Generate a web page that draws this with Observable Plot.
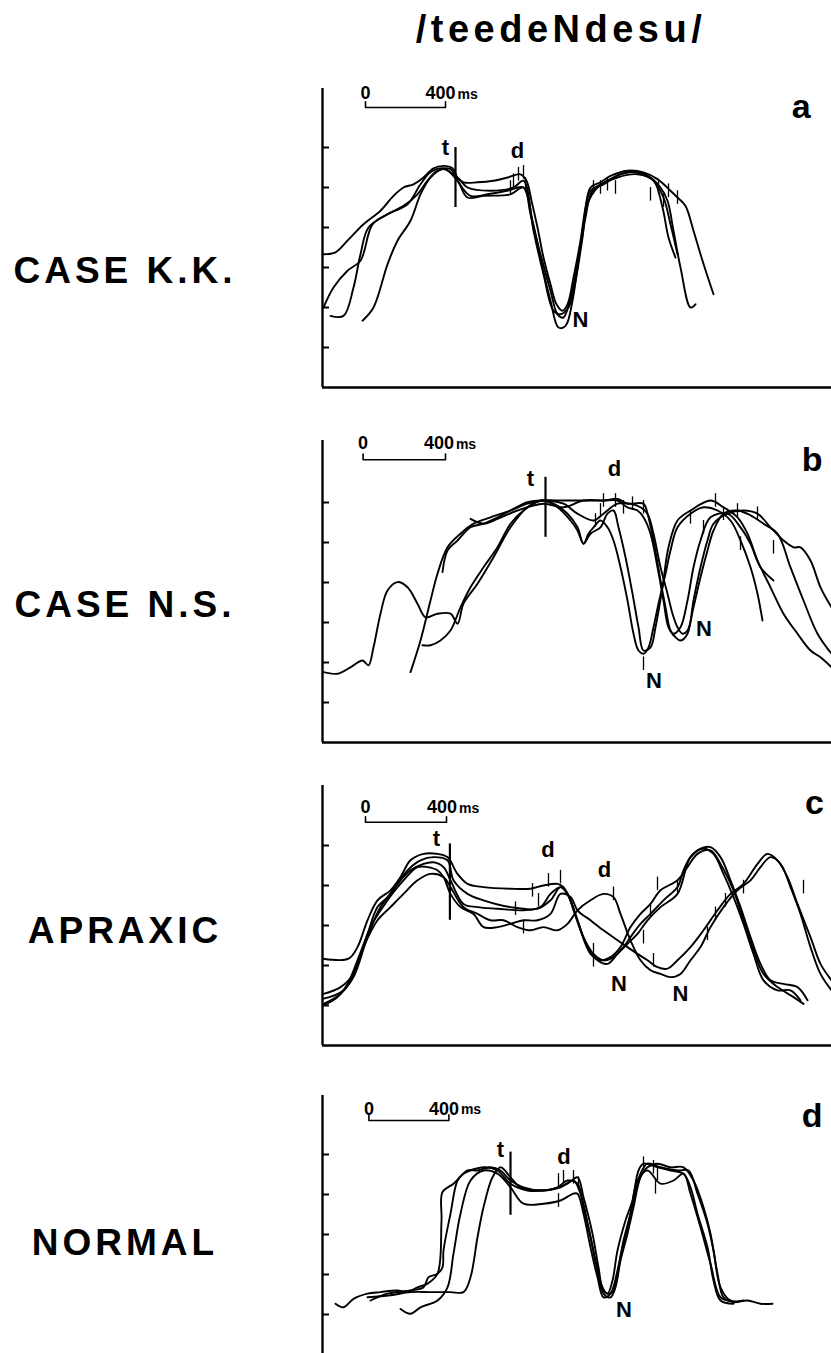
<!DOCTYPE html>
<html><head><meta charset="utf-8">
<script src="https://cdn.jsdelivr.net/npm/d3@7"></script>
<script src="https://cdn.jsdelivr.net/npm/@observablehq/plot@0.6"></script>
<style>
html,body{margin:0;padding:0;background:#fff;width:831px;height:1353px;overflow:hidden;position:relative;font-family:"Liberation Sans",Arial,sans-serif;color:#000}
.lbl{position:absolute;left:0;width:250px;text-align:center;font-weight:bold;font-size:37px;letter-spacing:4px;line-height:37px;white-space:nowrap}
#title{position:absolute;left:361px;width:400px;top:10px;text-align:center;font-weight:bold;font-size:38px;letter-spacing:4.5px;line-height:38px;white-space:nowrap}
.panel{position:absolute;left:0}
</style></head><body>
<div id="title">/teedeNdesu/</div>
<div class="lbl" style="top:252px">CASE K.K.</div>
<div class="lbl" style="top:586px">CASE N.S.</div>
<div class="lbl" style="top:912px">APRAXIC</div>
<div class="lbl" style="top:1224px">NORMAL</div>
<div id="pa" class="panel"></div>
<div id="pb" class="panel"></div>
<div id="pc" class="panel"></div>
<div id="pd" class="panel"></div>
<script>
// time in ms (0 = vertical axis), amplitude in tick units
// ---------- a: CASE K.K. ----------
const kk1 = [[5,3.33],[65,3.38],[125,3.67],[205,4.08],[290,4.42],[355,4.79],[405,5.0],[455,5.08],[505,5.25],[555,5.48],[605,5.54],[650,5.48],[675,5.25],[705,5.13],[775,5.13],[855,5.17],[925,5.25],[990,5.33],[1020,5.17],[1045,4.67],[1075,4.0],[1105,3.25],[1140,2.58],[1170,2.08],[1200,1.92],[1225,2.08],[1255,2.75],[1290,3.67],[1315,4.5],[1340,5.0],[1390,5.13],[1440,5.29],[1525,5.42],[1605,5.38],[1675,5.21],[1740,4.92],[1775,4.75],[1815,4.54],[1855,3.92],[1900,3.17],[1955,2.33]];
const kk2 = [[5,2.0],[55,2.5],[125,2.92],[190,3.17],[250,4.08],[325,4.33],[405,4.54],[475,4.83],[525,5.17],[575,5.42],[640,5.46],[675,5.17],[740,4.79],[825,4.83],[925,4.92],[1005,5.0],[1040,4.33],[1090,3.33],[1140,2.42],[1175,1.83],[1205,1.75],[1240,2.25],[1275,3.08],[1305,4.08],[1340,4.92],[1405,5.08],[1490,5.33],[1590,5.38],[1655,5.17],[1705,4.75],[1740,4.08],[1775,3.33]];
const kk3 = [[40,1.79],[105,1.79],[155,2.5],[190,3.33],[230,4.0],[325,4.33],[425,4.58],[490,5.08],[540,5.38],[605,5.48],[675,5.17],[725,4.75],[805,4.79],[940,4.83],[1005,5.0],[1050,4.17],[1100,3.0],[1140,2.17],[1180,1.5],[1215,1.54],[1250,2.17],[1280,3.17],[1315,4.25],[1350,4.92],[1425,5.17],[1525,5.38],[1625,5.29],[1690,5.0],[1725,4.67],[1755,3.92],[1790,3.0],[1840,2.0],[1865,2.08]];
const kk4 = [[200,1.67],[255,2.0],[325,3.08],[375,3.67],[440,4.17],[490,4.83],[540,5.25],[605,5.46],[675,5.25],[725,5.0],[840,4.92],[955,5.0],[1005,5.17],[1055,3.92],[1105,2.83],[1155,1.92],[1190,1.83],[1230,2.0],[1265,2.67],[1300,3.75],[1325,4.58],[1375,5.0],[1475,5.25],[1575,5.33],[1655,5.17],[1700,4.5],[1730,3.75],[1765,3.25]];
const kkMarks = [[940,5.0],[955,5.17],[980,5.33],[1005,5.38],[1015,5.08],[1355,5.0],[1390,5.0],[1425,5.08],[1465,5.0],[1640,4.83],[1680,5.0],[1705,4.67],[1730,4.92],[1775,4.75]];
const kkLabels = [{x:615,y:6.0,text:"t"},{x:975,y:5.92,text:"d"},{x:1290,y:1.68,text:"N"}];
const kkT = {x:665,y1:4.5,y2:6.0};
const kkBar = {x0:215,x1:615,y:7.0,zeroY:7.36,msX:515,unitX:675};
const kkLetter = {x:2393,y:7.0,text:"a"};

// ---------- b: CASE N.S. ----------
const ns1 = [[5,1.76],[75,1.72],[140,1.88],[200,2.05],[230,1.93],[255,2.38],[290,3.22],[325,3.8],[375,4.01],[425,3.88],[475,3.47],[515,3.13],[575,3.22],[640,3.22],[675,2.97],[705,3.47],[775,3.97],[855,4.63],[940,5.38],[1025,5.88],[1105,6.05],[1175,5.88],[1240,5.55],[1275,5.3],[1305,4.97],[1330,5.22],[1355,5.38],[1390,5.55],[1425,5.38],[1455,5.05],[1490,4.38],[1525,3.55],[1555,2.72],[1580,2.3],[1605,2.22],[1630,2.38],[1655,2.88],[1680,3.47],[1715,4.22],[1740,4.8],[1775,5.38],[1840,5.72],[1905,5.88],[1975,5.8],[2040,5.55],[2090,5.05],[2140,4.38],[2175,3.72],[2200,3.05]];
const ns2 = [[440,1.76],[490,2.55],[540,3.55],[575,4.22],[625,4.88],[690,5.22],[755,5.47],[840,5.63],[940,5.8],[1025,5.97],[1105,6.05],[1205,6.05],[1305,6.05],[1405,6.05],[1475,6.09],[1525,5.97],[1605,5.97],[1625,5.72],[1655,5.05],[1690,4.05],[1715,3.38],[1740,2.8],[1765,2.63],[1790,2.55],[1825,2.72],[1855,3.55],[1890,4.38],[1925,5.05],[1955,5.47],[2025,5.72],[2105,5.8],[2175,5.72],[2240,5.38],[2305,5.05],[2355,4.88],[2390,4.88],[2440,4.55],[2490,3.88],[2545,3.38]];
const ns3 = [[500,2.43],[540,2.43],[590,2.55],[640,2.8],[690,3.38],[740,3.88],[805,4.38],[875,4.88],[940,5.47],[1005,5.8],[1090,6.05],[1155,5.97],[1225,5.72],[1275,5.38],[1305,4.97],[1340,5.22],[1390,5.38],[1425,5.72],[1455,5.8],[1480,5.38],[1515,4.63],[1550,3.72],[1580,2.88],[1605,2.3],[1640,2.38],[1665,2.88],[1700,3.88],[1730,4.88],[1775,5.55],[1840,5.8],[1940,6.05],[2005,5.88],[2075,5.63],[2125,5.22],[2175,4.55],[2240,3.88],[2305,3.22],[2375,2.72],[2440,2.3],[2490,2.13],[2545,1.88]];
const ns4 = [[600,4.26],[625,4.8],[675,5.05],[740,5.38],[805,5.47],[875,5.63],[940,5.8],[1025,6.01],[1105,6.05],[1205,5.97],[1275,5.72],[1355,5.55],[1405,5.72],[1475,5.97],[1540,5.97],[1590,5.88],[1625,5.72],[1655,5.22],[1690,4.38],[1725,3.72],[1750,3.22],[1775,2.88],[1800,2.72],[1825,2.8],[1855,3.38],[1890,4.13],[1925,4.8],[1955,5.3],[2005,5.72],[2075,5.8],[2140,5.68],[2205,5.47],[2275,5.22],[2340,4.38],[2405,3.55],[2475,2.72],[2545,2.22]];
const ns5 = [[740,5.59],[805,5.47],[875,5.59],[975,5.8],[1105,5.97],[1205,5.88],[1305,6.05],[1405,6.05],[1475,6.05],[1525,5.88],[1575,5.8],[1605,5.63],[1640,5.22],[1675,4.38],[1705,3.55],[1730,2.88],[1755,2.72],[1790,2.88],[1825,3.55],[1855,4.38],[1890,5.05],[1940,5.63],[2025,5.72],[2090,5.38],[2140,4.97],[2190,4.38],[2255,4.05]];
const nsMarks = [[1365,5.55],[1390,5.8],[1405,6.05],[1465,6.05],[1505,5.88],[1550,5.97],[1605,5.88],[1605,1.97],[1840,5.63],[1905,5.38],[1965,6.05],[2005,5.72],[2075,5.8],[2175,5.72],[2090,4.97],[2255,4.88]];
const nsLabels = [{x:1040,y:6.59,text:"t"},{x:1460,y:6.83,text:"d"},{x:1657,y:1.55,text:"N"},{x:1907,y:2.84,text:"N"}];
const nsT = {x:1115,y1:5.13,y2:6.63};
const nsBar = {x0:203,x1:615,y:7.07,zeroY:7.47,msX:507,unitX:667};
const nsLetter = {x:2448,y:7.05,text:"b"};

// ---------- c: APRAXIC ----------
const ap1 = [[5,2.17],[130,2.17],[175,2.46],[225,3.13],[275,3.63],[340,3.88],[390,4.21],[440,4.63],[505,4.79],[575,4.79],[625,4.71],[675,4.29],[725,4.04],[805,3.96],[940,3.92],[1040,3.92],[1105,4.0],[1175,4.04],[1205,3.96],[1240,3.63],[1275,3.13],[1305,2.71],[1355,2.29],[1405,2.13],[1455,2.21],[1505,2.46],[1540,2.71],[1590,3.04],[1640,3.29],[1705,3.63],[1775,3.96],[1805,4.38],[1840,4.71],[1890,4.92],[1940,4.96],[1990,4.71],[2040,4.13],[2090,3.46],[2140,2.71],[2190,2.04],[2240,1.63],[2305,1.54],[2375,1.46],[2425,1.13]];
const ap2 = [[5,1.0],[75,1.21],[125,1.54],[175,2.13],[225,2.79],[275,3.46],[325,3.71],[375,4.04],[440,4.38],[505,4.54],[555,4.58],[605,4.46],[640,4.13],[705,3.54],[775,3.46],[875,3.42],[1005,3.38],[1090,3.46],[1140,3.79],[1190,3.96],[1225,3.79],[1255,3.38],[1290,2.88],[1340,2.29],[1390,2.13],[1440,2.21],[1490,2.46],[1540,2.96],[1590,3.29],[1640,3.54],[1690,3.88],[1775,4.13],[1825,4.46],[1875,4.79],[1940,4.88],[1990,4.54],[2055,3.88],[2105,3.13],[2155,2.38],[2205,1.79],[2275,1.46],[2355,1.21],[2405,1.04]];
const ap3 = [[5,1.29],[90,1.46],[155,1.79],[205,2.46],[275,3.13],[340,3.46],[405,3.79],[475,4.13],[540,4.29],[605,4.21],[640,3.96],[705,3.46],[775,3.29],[840,3.13],[905,3.13],[975,2.96],[1040,2.88],[1105,2.96],[1175,2.88],[1225,3.04],[1275,3.38],[1340,3.63],[1405,3.79],[1455,3.71],[1490,3.29],[1540,2.63],[1590,2.13],[1640,1.88],[1690,1.79],[1740,1.71],[1790,1.79],[1840,2.13],[1890,2.46],[1940,2.96],[2005,3.46],[2075,3.88],[2140,4.13],[2190,4.46],[2240,4.71],[2290,4.54],[2340,3.96],[2390,3.29],[2440,2.46],[2490,1.79],[2545,1.38]];
const ap4 = [[5,1.17],[105,1.38],[175,2.04],[240,2.96],[325,3.63],[405,4.13],[475,4.46],[525,4.46],[575,4.38],[605,4.21],[640,3.79],[690,3.46],[755,3.29],[805,2.96],[875,2.96],[940,3.04],[1005,3.13],[1075,3.13],[1140,3.29],[1190,3.79],[1240,3.71],[1275,3.38],[1340,3.13],[1405,2.88],[1475,2.63],[1525,2.46],[1575,2.29],[1625,2.13],[1675,1.96],[1725,1.92],[1775,2.13],[1840,2.46],[1905,2.88],[1975,3.38],[2040,3.79],[2105,4.04],[2175,4.54],[2225,4.79],[2275,4.63],[2325,4.21],[2375,3.54],[2440,2.71],[2490,2.04],[2545,1.63]];
const ap5 = [[5,1.04],[90,1.29],[155,1.71],[225,2.71],[290,3.46],[355,3.88],[425,4.38],[490,4.63],[555,4.71],[625,4.63],[655,4.13],[725,3.79],[805,3.63],[940,3.46],[1075,3.42],[1140,3.63],[1190,3.96],[1225,3.79],[1275,3.13],[1325,2.46],[1375,2.13],[1425,2.04],[1475,2.29],[1525,2.54],[1575,2.79],[1625,3.13],[1690,3.46],[1775,3.79],[1840,4.71],[1905,4.92],[1955,4.79],[2005,4.29],[2055,3.71],[2105,3.04],[2155,2.29],[2205,1.63],[2275,1.38],[2340,1.38],[2390,1.13]];
const apMarks = [[1050,3.88],[1130,4.13],[1190,4.21],[1080,3.63],[965,3.42],[1005,2.96],[1455,3.79],[1355,2.38],[1355,2.13],[1605,2.71],[1640,3.38],[1675,4.04],[1775,3.96],[1655,2.13],[1925,2.79],[1965,3.29],[2015,3.63],[2105,3.96],[2405,3.96]];
const apLabels = [{x:570,y:5.17,text:"t"},{x:1127,y:4.88,text:"d"},{x:1410,y:4.39,text:"d"},{x:1482,y:1.54,text:"N"},{x:1790,y:1.28,text:"N"}];
const apT = {x:637,y1:3.13,y2:5.04};
const apBar = {x0:215,x1:620,y:5.58,zeroY:5.96,msX:523,unitX:683};
const apLetter = {x:2460,y:6.06,text:"c"};

// ---------- d: NORMAL ----------
const no1 = [[65,1.27],[105,1.18],[155,1.39],[225,1.52],[290,1.56],[375,1.6],[425,1.56],[475,1.68],[525,1.77],[575,2.02],[595,3.35],[600,4.06],[655,4.27],[725,4.6],[775,4.6],[840,4.68],[890,4.6],[940,4.35],[1005,4.18],[1105,4.1],[1175,4.18],[1225,4.35],[1275,4.27],[1305,3.68],[1340,2.93],[1375,2.1],[1405,1.52],[1440,1.43],[1465,1.68],[1490,2.35],[1525,3.02],[1555,3.68],[1590,4.43],[1625,4.68],[1675,4.77],[1740,4.68],[1805,4.68],[1855,4.35],[1905,3.68],[1940,3.02],[1975,2.02],[2005,1.43],[2055,1.31],[2125,1.35],[2190,1.27],[2250,1.27]];
const no2 = [[240,1.35],[325,1.52],[440,1.6],[505,1.68],[530,1.93],[575,2.02],[600,2.18],[605,2.6],[640,3.52],[675,4.35],[705,4.52],[805,4.68],[875,4.6],[940,4.27],[1025,4.1],[1105,4.1],[1190,4.18],[1255,4.35],[1290,4.02],[1330,3.18],[1365,2.35],[1400,1.68],[1425,1.52],[1450,1.85],[1475,2.6],[1515,3.35],[1550,3.85],[1580,4.6],[1605,4.77],[1675,4.68],[1740,4.6],[1805,4.52],[1840,4.18],[1875,3.52],[1925,2.68],[1955,1.85],[1990,1.35],[2055,1.27]];
const no3 = [[390,1.14],[440,1.02],[490,1.18],[575,1.35],[625,1.68],[655,2.52],[690,3.52],[740,4.35],[805,4.6],[875,4.52],[940,4.18],[1005,3.77],[1105,3.77],[1190,3.85],[1255,4.02],[1275,4.02],[1305,3.52],[1340,2.68],[1375,1.93],[1405,1.43],[1440,1.52],[1475,2.1],[1505,2.85],[1540,3.52],[1575,4.35],[1625,4.6],[1690,4.27],[1755,4.35],[1805,4.52],[1840,4.02],[1890,3.18],[1940,2.27],[1990,1.43],[2040,1.35]];
const no4 = [[225,1.43],[340,1.48],[440,1.56],[540,1.56],[640,1.56],[705,1.56],[740,1.93],[775,2.93],[805,3.68],[850,4.43],[890,4.68],[940,4.43],[990,4.18],[1075,4.1],[1155,4.14],[1225,4.27],[1275,4.43],[1305,3.93],[1350,3.02],[1380,2.18],[1405,1.6],[1440,1.52],[1465,1.77],[1490,2.43],[1525,3.18],[1555,3.85],[1590,4.52],[1625,4.77],[1690,4.68],[1775,4.6],[1830,4.6],[1875,4.02],[1925,3.27],[1955,2.6],[1990,1.68],[2040,1.35],[2105,1.35]];
const noMarks = [[1180,4.35],[1205,4.43],[1255,4.43],[1280,4.27],[1180,3.85],[1605,4.77],[1655,4.68],[1675,4.52],[1665,4.18]];
const noLabels = [{x:890,y:5.12,text:"t"},{x:1207,y:4.95,text:"d"},{x:1507,y:1.12,text:"N"}];
const noT = {x:940,y1:3.48,y2:5.06};
const noBar = {x0:232,x1:632,y:5.85,zeroY:6.14,msX:532,unitX:692};
const noLetter = {x:2448,y:5.95,text:"d"};

const FONT = "Liberation Sans, Arial, sans-serif";

function drawPanel(el, {traces, marks, labels, tLine, bar, letter, top, bottom, ticks}) {
  const H = bottom - top;
  const rows = traces.flatMap((tr, i) => tr.map(([x, y]) => ({x, y, id: i})));
  const barPts = [[bar.x0, bar.y + 0.14], [bar.x0, bar.y], [bar.x1, bar.y], [bar.x1, bar.y + 0.14]];
  const chart = Plot.plot({
    width: 831, height: H + 20,
    marginLeft: 322, marginRight: 0, marginTop: 10, marginBottom: 10,
    x: {domain: [0, 2545], axis: null},
    y: {domain: [0, H / 40], axis: null},
    style: {background: "transparent", overflow: "visible"},
    marks: [
      Plot.ruleX([0], {stroke: "#000", strokeWidth: 2.4}),
      Plot.ruleY([0], {stroke: "#000", strokeWidth: 2.4}),
      Plot.ruleY(ticks, {y: d => d, x1: 0, x2: 35, stroke: "#000", strokeWidth: 2}),
      Plot.line(rows, {x: "x", y: "y", z: "id", curve: "catmull-rom", stroke: "#000", strokeWidth: 1.9}),
      Plot.ruleX(marks, {x: d => d[0], y1: d => d[1] - 0.17, y2: d => d[1] + 0.17, stroke: "#000", strokeWidth: 1.3}),
      Plot.ruleX([tLine], {x: "x", y1: "y1", y2: "y2", stroke: "#000", strokeWidth: 2.2}),
      Plot.text(labels, {x: "x", y: "y", text: "text", fontSize: 22, fontWeight: "bold", fontFamily: FONT, fill: "#000"}),
      Plot.line(barPts, {x: d => d[0], y: d => d[1], stroke: "#000", strokeWidth: 1.6}),
      Plot.text([bar], {x: "x0", y: "zeroY", text: () => "0", fontSize: 18, fontWeight: "bold", fontFamily: FONT, fill: "#000"}),
      Plot.text([bar], {x: "msX", y: "zeroY", text: () => "400", textAnchor: "start", fontSize: 18, fontWeight: "bold", fontFamily: FONT, fill: "#000"}),
      Plot.text([bar], {x: "unitX", y: "zeroY", text: () => "ms", textAnchor: "start", dy: 1, fontSize: 14, fontWeight: "bold", fontFamily: FONT, fill: "#000"}),
      Plot.text([letter], {x: "x", y: "y", text: "text", fontSize: 34, fontWeight: "bold", fontFamily: FONT, fill: "#000"})
    ]
  });
  el.style.top = (top - 10) + "px";
  el.appendChild(chart);
}

drawPanel(document.getElementById("pa"), {traces: [kk1, kk2, kk3, kk4], marks: kkMarks, labels: kkLabels, tLine: kkT, bar: kkBar, letter: kkLetter, top: 88, bottom: 387, ticks: [1,2,3,4,5,6]});
drawPanel(document.getElementById("pb"), {traces: [ns1, ns2, ns3, ns4, ns5], marks: nsMarks, labels: nsLabels, tLine: nsT, bar: nsBar, letter: nsLetter, top: 440, bottom: 742, ticks: [1,2,3,4,5,6]});
drawPanel(document.getElementById("pc"), {traces: [ap1, ap2, ap3, ap4, ap5], marks: apMarks, labels: apLabels, tLine: apT, bar: apBar, letter: apLetter, top: 785, bottom: 1045, ticks: [1,2,3,4,5]});
drawPanel(document.getElementById("pd"), {traces: [no1, no2, no3, no4], marks: noMarks, labels: noLabels, tLine: noT, bar: noBar, letter: noLetter, top: 1095, bottom: 1354, ticks: [1,2,3,4,5]});
</script>
</body></html>
